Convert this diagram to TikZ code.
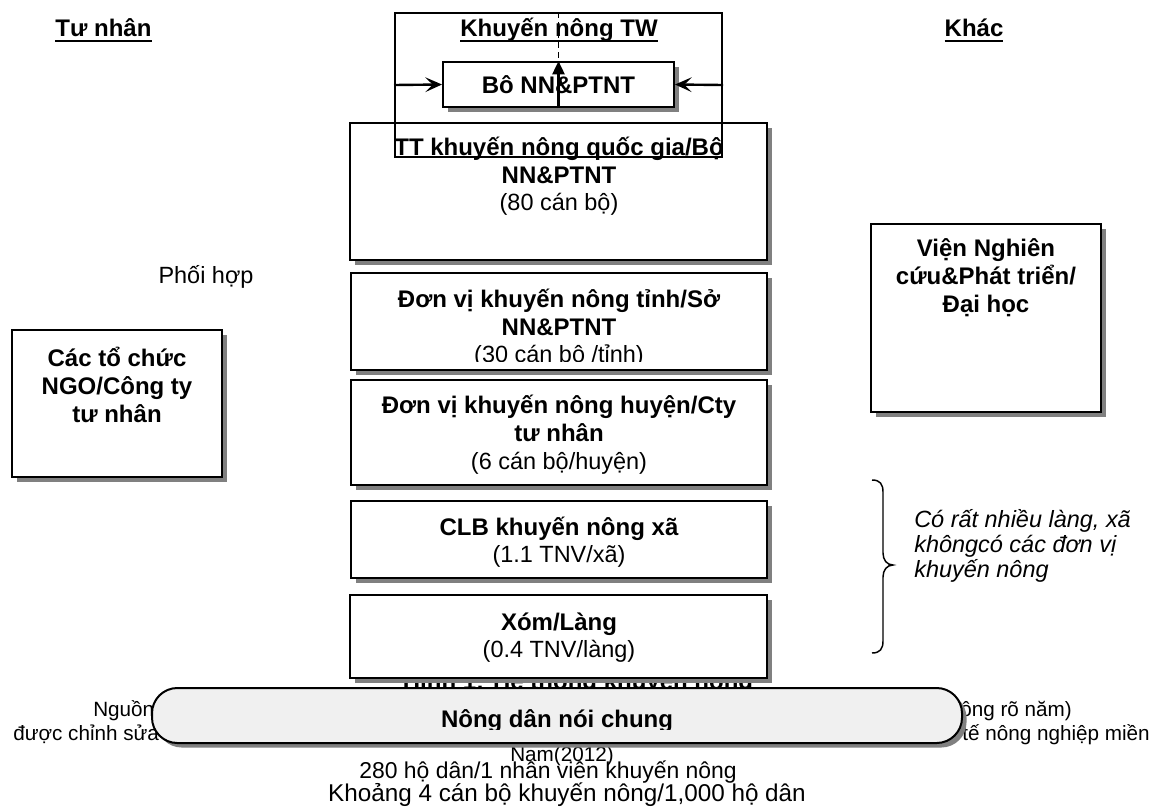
\documentclass[tikz,border=0pt]{standalone}
\usepackage{fontspec}
\setmainfont{Liberation Sans}
\usetikzlibrary{shadows,arrows.meta,fit}
% heading with a heavy underline
\newcommand\hdrul[1]{\setbox0=\hbox{#1}\rlap{\rule[-4.2pt]{\wd0}{1.4pt}}\box0}

\begin{document}
\begin{tikzpicture}[x=0.75pt,y=-0.75pt,
  panel/.style={draw=black, line width=1.5pt, fill=white, inner sep=0pt,
    general shadow={fill=black!50, shadow xshift=3.4pt, shadow yshift=-3.4pt}},
  pill/.style={draw=black, line width=1.5pt, fill=black!6, inner sep=0pt, rounded corners=19pt,
    general shadow={fill=black!50, shadow xshift=3.4pt, shadow yshift=-3.4pt}},
  outline/.style={draw=black, line width=1.5pt, inner sep=0pt},
  bt/.style={font=\fontsize{18}{21}\selectfont\bfseries, inner sep=0pt, anchor=base},
  rt/.style={font=\fontsize{17.6}{21}\selectfont, inner sep=0pt, anchor=base},
  itx/.style={font=\fontsize{17.6}{21}\selectfont\itshape, inner sep=0pt, anchor=base west},
  srctext/.style={font=\fontsize{15.5}{19}\selectfont, inner sep=0pt},
  barb/.style={line width=1.8pt, -{Stealth[length=12.5pt,width=11pt,inset=5.5pt]}},
  uparrow/.style={line width=1.8pt, -{Triangle[length=10pt,width=9pt]}},
  dashline/.style={line width=1pt, dash pattern=on 4.5pt off 3pt}
]
\path[fill=white] (0,0) rectangle (1155,807);

% caption lines lying underneath the boxes
\node[srctext, anchor=base west] (capA) at (93,716) {Nguồn: Trung tâm Khuyến nông Quốc gia};
\node[srctext, anchor=base east] (capB) at (1072,716) {Báo cáo tổng kết (không rõ năm)};
\node[srctext, anchor=base west] (capC) at (13,740) {được chỉnh sửa bởi Viện Chính sách};
\node[srctext, anchor=base east] (capD) at (1150,740) {Phân viện Kinh tế nông nghiệp miền};
\node[srctext, anchor=base] (capE) at (562,761) {Nam(2012)};
\node[bt] (title) at (578,689) {Hình 1: Hệ thống khuyến nông};

% headings
\node[bt] (hdrPriv) at (103.5,36) {\hdrul{Tư nhân}};
\node[bt] (hdrCent) at (559,36) {\hdrul{Khuyến nông TW}};
\node[bt] (hdrOther) at (974,36) {\hdrul{Khác}};

% side boxes
\node[panel, fit={(12,330) (222,477)}] (ngo) {};
\node[bt] (ngoA) at (117,366) {Các tổ chức};
\node[bt] (ngoB) at (117,394) {NGO/Công ty};
\node[bt] (ngoC) at (117,422) {tư nhân};

\node[panel, fit={(871,224) (1101,412)}] (res) {};
\node[bt] (resA) at (986,256) {Viện Nghiên};
\node[bt] (resB) at (986,284) {cứu\&Phát triển/};
\node[bt] (resC) at (986,312) {Đại học};

\node[rt] (coop) at (206,283) {Phối hợp};

% tiers of the extension system
\node[panel, fit={(350,123) (767,260)}] (nat) {};
\node[bt] (natA) at (559,155) {TT khuyến nông quốc gia/Bộ};
\node[bt] (natB) at (559,183) {NN\&PTNT};
\node[rt] (natC) at (559,210) {(80 cán bộ)};

\node[panel, fit={(351,273) (767,370)}] (prov) {};
\node[bt] (provA) at (559,307) {Đơn vị khuyến nông tỉnh/Sở};
\node[bt] (provB) at (559,335) {NN\&PTNT};
\begin{scope}
  \clip (351,273) rectangle (767,361);
  \node[rt] (provC) at (559,362) {(30 cán bộ /tỉnh)};
\end{scope}

\node[panel, fit={(351,380) (767,485)}] (dist) {};
\node[bt] (distA) at (559,413) {Đơn vị khuyến nông huyện/Cty};
\node[bt] (distB) at (559,441) {tư nhân};
\node[rt] (distC) at (559,469) {(6 cán bộ/huyện)};

\node[panel, fit={(351,501) (767,578)}] (club) {};
\node[bt] (clubA) at (559,535) {CLB khuyến nông xã};
\node[rt] (clubB) at (559,562) {(1.1 TNV/xã)};

\node[panel, fit={(350,595) (767,678)}] (vill) {};
\node[bt] (villA) at (559,630) {Xóm/Làng};
\node[rt] (villB) at (559,657) {(0.4 TNV/làng)};

% central frame with the ministry
\node[outline, fit={(395,13) (722,157)}] (frame) {};
\node[panel, fit={(443,62) (674,107)}] (mini) {};
\node[bt] (miniT) at (558.5,93) {Bô NN\&PTNT};
\draw[dashline] (frame.north) -- (mini.north);
\draw[barb] (frame.west) -- (mini.west);
\draw[barb] (frame.east) -- (mini.east);
\draw[uparrow] (mini.south) -- (mini.north);

% farmers
\node[pill, fit={(152,688) (962,743)}] (farm) {};
\begin{scope}
  \clip (152,688) rectangle (962,729);
  \node[bt] (farmT) at (557,727) {Nông dân nói chung};
\end{scope}

% brace and note
\draw[line width=1.1pt] (872,480) .. controls (880,480) and (883,484) .. (883,492) -- (883,553)
  .. controls (883,560) and (887,565) .. (893,565)
  .. controls (887,565) and (883,570) .. (883,577) -- (883,641)
  .. controls (883,649) and (880,653) .. (872,653);
\node[itx] (noteA) at (914,527) {Có rất nhiều làng, xã};
\node[itx] (noteB) at (914,552) {khôngcó các đơn vị};
\node[itx] (noteC) at (914,577) {khuyến nông};

% ratios
\node[font=\fontsize{17.2}{21}\selectfont, inner sep=0pt, anchor=base] (ratioA) at (548,778) {280 hộ dân/1 nhân viên khuyến nông};
\node[font=\fontsize{18.2}{21}\selectfont, inner sep=0pt, anchor=base] (ratioB) at (567,801) {Khoảng 4 cán bộ khuyến nông/1,000 hộ dân};
\end{tikzpicture}
\end{document}
